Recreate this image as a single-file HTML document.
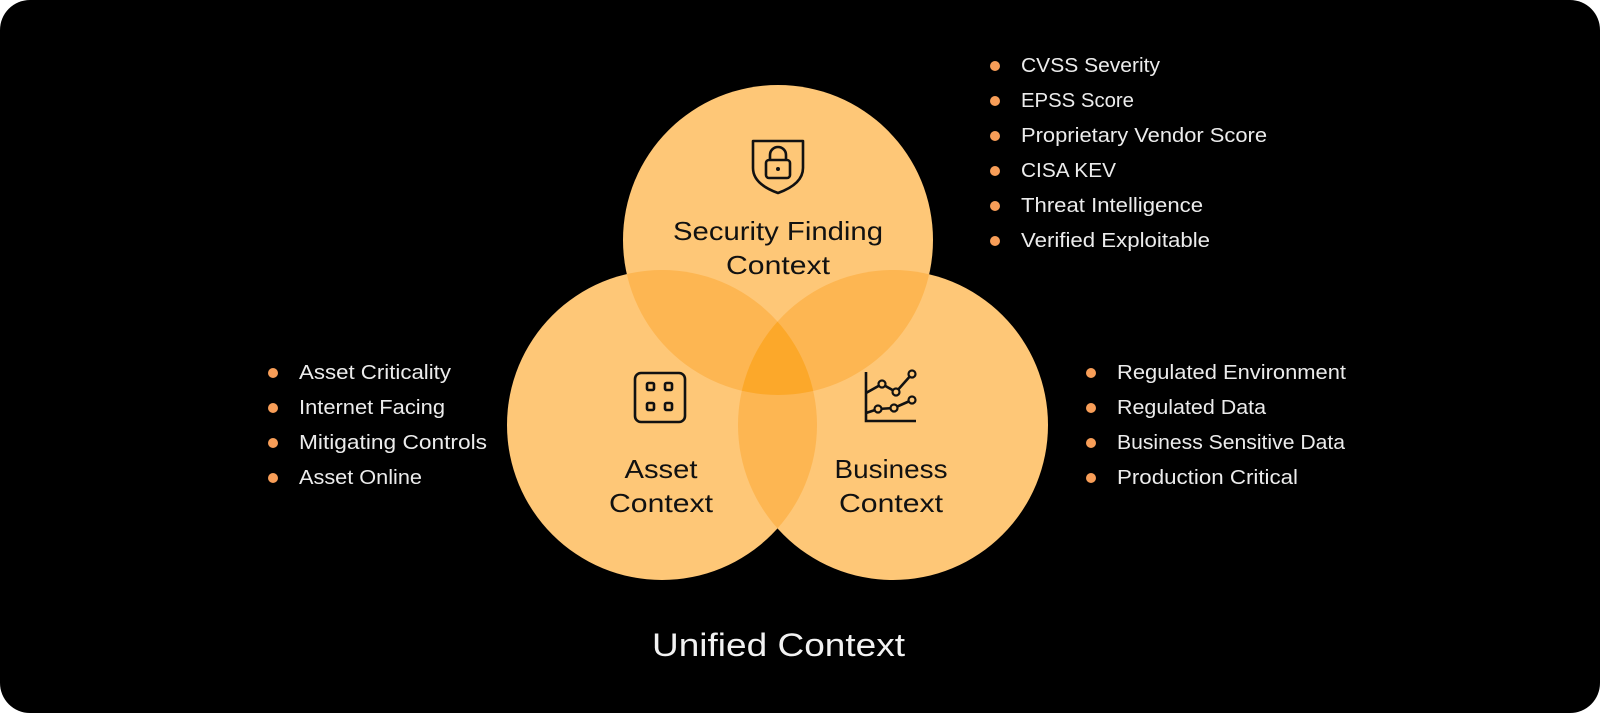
<!DOCTYPE html>
<html><head><meta charset="utf-8"><style>
html,body{margin:0;padding:0;background:#fff;width:1600px;height:713px;overflow:hidden}
svg{display:block}
text{font-family:"Liberation Sans",sans-serif}
</style></head><body>
<svg width="1600" height="713" viewBox="0 0 1600 713" xmlns="http://www.w3.org/2000/svg">
<defs>
<clipPath id="cT"><circle cx="778" cy="240" r="155"/></clipPath>
<clipPath id="cL"><circle cx="662" cy="425" r="155"/></clipPath>
<clipPath id="cR"><circle cx="893" cy="425" r="155"/></clipPath>
</defs>
<rect x="0" y="0" width="1600" height="713" rx="30" ry="30" fill="#000"/>
<circle cx="778" cy="240" r="155" fill="#FEC777"/>
<circle cx="662" cy="425" r="155" fill="#FEC777"/>
<circle cx="893" cy="425" r="155" fill="#FEC777"/>
<g clip-path="url(#cT)"><circle cx="662" cy="425" r="155" fill="#FDB652"/><circle cx="893" cy="425" r="155" fill="#FDB652"/></g>
<g clip-path="url(#cL)"><circle cx="893" cy="425" r="155" fill="#FDB652"/></g>
<g clip-path="url(#cT)"><g clip-path="url(#cL)"><circle cx="893" cy="425" r="155" fill="#FCA82A"/></g></g>

<!-- shield icon -->
<g fill="none" stroke="#111" stroke-width="2.6" stroke-linejoin="round">
<path d="M753 141 H803 V168 Q803 184 778 193 Q753 184 753 168 Z"/>
<rect x="766" y="160" width="24" height="18" rx="3"/>
<path d="M770 160 V155 A8 8 0 0 1 786 155 V160"/>
</g>
<circle cx="778" cy="169" r="2" fill="#111"/>
<!-- grid icon -->
<g fill="none" stroke="#111" stroke-width="2.6">
<rect x="635" y="373" width="50" height="49" rx="6"/>
<rect x="647" y="383" width="7" height="7" rx="1.5"/>
<rect x="665" y="383" width="7" height="7" rx="1.5"/>
<rect x="647" y="403" width="7" height="7" rx="1.5"/>
<rect x="665" y="403" width="7" height="7" rx="1.5"/>
</g>
<!-- chart icon -->
<g fill="none" stroke="#111" stroke-width="2.6">
<path d="M866 372 V421 H916"/>
<path d="M866 393 L882 384 L896 392 L912 374"/>
<path d="M866 413 L878 409 L894 408 L912 400"/>
</g>
<g fill="#FEC777" stroke="#111" stroke-width="2.2">
<circle cx="882" cy="384" r="3.5"/><circle cx="896" cy="392" r="3.5"/><circle cx="912" cy="374" r="3.5"/>
<circle cx="878" cy="409" r="3.5"/><circle cx="894" cy="408" r="3.5"/><circle cx="912" cy="400" r="3.5"/>
</g>

<g fill="#111" font-size="26" text-anchor="middle">
<text x="778" y="240" textLength="210" lengthAdjust="spacingAndGlyphs">Security Finding</text>
<text x="778" y="274" textLength="104" lengthAdjust="spacingAndGlyphs">Context</text>
<text x="661" y="478" textLength="73" lengthAdjust="spacingAndGlyphs">Asset</text>
<text x="661" y="512" textLength="104" lengthAdjust="spacingAndGlyphs">Context</text>
<text x="891" y="478" textLength="113" lengthAdjust="spacingAndGlyphs">Business</text>
<text x="891" y="512" textLength="104" lengthAdjust="spacingAndGlyphs">Context</text>
</g>

<g fill="#F89E58">
<circle cx="995" cy="66" r="5"/><circle cx="995" cy="101" r="5"/><circle cx="995" cy="136" r="5"/><circle cx="995" cy="171" r="5"/><circle cx="995" cy="206" r="5"/><circle cx="995" cy="241" r="5"/>
<circle cx="273" cy="373" r="5"/><circle cx="273" cy="408" r="5"/><circle cx="273" cy="443" r="5"/><circle cx="273" cy="478" r="5"/>
<circle cx="1091" cy="373" r="5"/><circle cx="1091" cy="408" r="5"/><circle cx="1091" cy="443" r="5"/><circle cx="1091" cy="478" r="5"/>
</g>
<g fill="#ECECEC" font-size="20">
<text x="1021" y="72" textLength="139" lengthAdjust="spacingAndGlyphs">CVSS Severity</text>
<text x="1021" y="107" textLength="113" lengthAdjust="spacingAndGlyphs">EPSS Score</text>
<text x="1021" y="142" textLength="246" lengthAdjust="spacingAndGlyphs">Proprietary Vendor Score</text>
<text x="1021" y="177" textLength="95" lengthAdjust="spacingAndGlyphs">CISA KEV</text>
<text x="1021" y="212" textLength="182" lengthAdjust="spacingAndGlyphs">Threat Intelligence</text>
<text x="1021" y="247" textLength="189" lengthAdjust="spacingAndGlyphs">Verified Exploitable</text>
<text x="299" y="379" textLength="152" lengthAdjust="spacingAndGlyphs">Asset Criticality</text>
<text x="299" y="414" textLength="146" lengthAdjust="spacingAndGlyphs">Internet Facing</text>
<text x="299" y="449" textLength="188" lengthAdjust="spacingAndGlyphs">Mitigating Controls</text>
<text x="299" y="484" textLength="123" lengthAdjust="spacingAndGlyphs">Asset Online</text>
<text x="1117" y="379" textLength="229" lengthAdjust="spacingAndGlyphs">Regulated Environment</text>
<text x="1117" y="414" textLength="149" lengthAdjust="spacingAndGlyphs">Regulated Data</text>
<text x="1117" y="449" textLength="228" lengthAdjust="spacingAndGlyphs">Business Sensitive Data</text>
<text x="1117" y="484" textLength="181" lengthAdjust="spacingAndGlyphs">Production Critical</text>
</g>
<text x="652" y="656" fill="#F2F2F2" font-size="32" textLength="253" lengthAdjust="spacingAndGlyphs">Unified Context</text>
</svg>
</body></html>
